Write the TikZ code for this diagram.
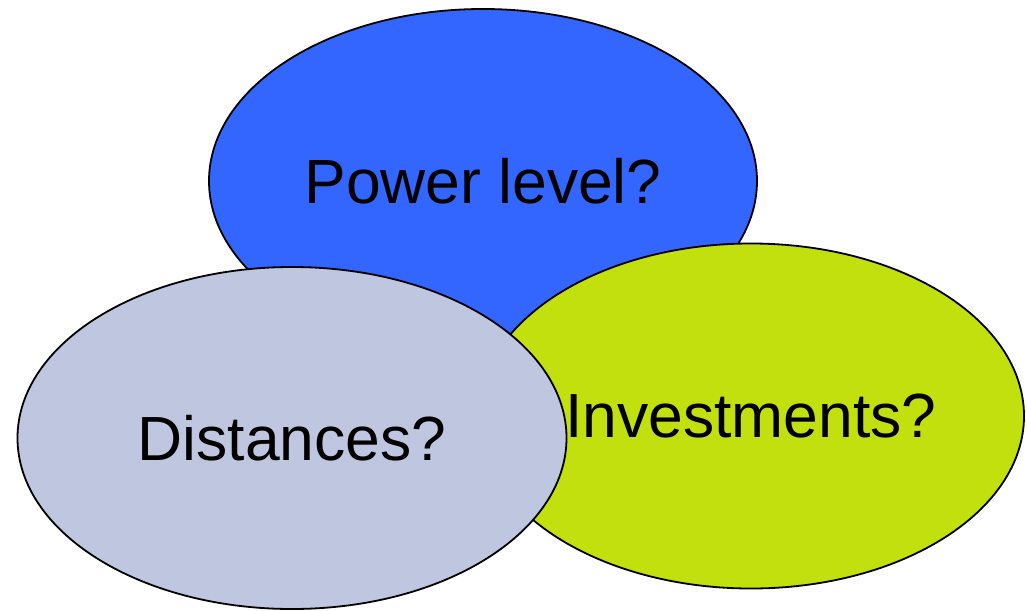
\documentclass[tikz,border=0pt]{standalone}
\usepackage{fontspec}
\setmainfont{Liberation Sans}
\usetikzlibrary{shapes.geometric}
\definecolor{Sky}{RGB}{51,102,255}
\definecolor{Lime}{RGB}{194,224,14}
\definecolor{Haze}{RGB}{191,199,224}

\begin{document}
\begin{tikzpicture}[x=0.5pt,y=-0.5pt,
 q/.style={ellipse,draw=black,line width=0.9pt,inner sep=0pt,minimum width=274pt,minimum height=172pt,font=\fontsize{31.2}{36}\selectfont}]
\useasboundingbox (0,0) rectangle (1027,610);
\node[q,fill=Sky] (power) at (483,181) {Power level?};
\node[q,fill=Lime,minimum height=172.5pt,minimum width=273pt] (invest) at (751,416) {Investments?};
\node[q,fill=Haze,minimum width=274.5pt,minimum height=171pt] (dist) at (292,438) {Distances?};
\end{tikzpicture}
\end{document}
